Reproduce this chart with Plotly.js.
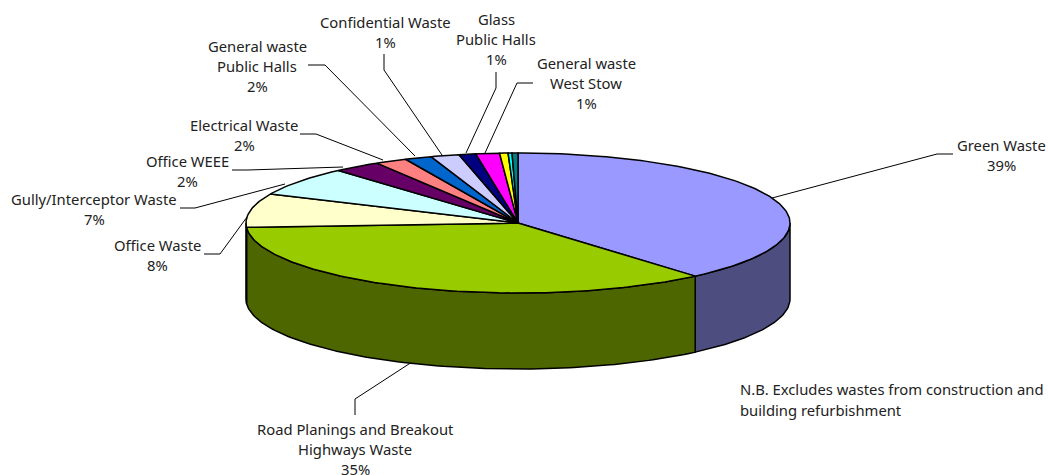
<!DOCTYPE html>
<html><head><meta charset="utf-8">
<script src="https://cdn.plot.ly/plotly-3.0.1.min.js"></script>
<style>html,body{margin:0;padding:0;background:#fff;overflow:hidden}</style>
</head><body><div id="chart" style="width:1048px;height:475px"></div>
<script>
// Data, clockwise from 12 o'clock
const categories = ["Green Waste","Road Planings and Breakout Highways Waste","Office Waste","Gully/Interceptor Waste","Office WEEE","Electrical Waste","General waste Public Halls","Confidential Waste","Glass Public Halls","General waste West Stow","Other A","Other B","Other C"];
const values = [38.7,35.3,7.8,6.7,2.8,1.9,1.6,1.7,1.0,1.4,0.5,0.23,0.35];
const topColors = ["#9999FF","#99CC00","#FFFFCC","#CCFFFF","#660066","#FF8080","#0066CC","#CCCCFF","#000080","#FF00FF","#FFFF00","#00FFFF","#008080"];
const sideColors = ["#4D4D80","#4D6600","#808066"];

// Label text
const labelTexts = [
  ["Green Waste","39%"],
  ["Road Planings and Breakout","Highways Waste","35%"],
  ["Office Waste","8%"],
  ["Gully/Interceptor Waste","7%"],
  ["Office WEEE","2%"],
  ["Electrical Waste","2%"],
  ["General waste","Public Halls","2%"],
  ["Confidential Waste","1%"],
  ["Glass","Public Halls","1%"],
  ["General waste","West Stow","1%"]
];
const noteLines = ["N.B. Excludes wastes from construction and","building refurbishment"];

// Layout (pixels of the page)
const labelPos = [[1001,145],[355,428.5],[157,245],[94,199],[187,161],[244,125],[257,46],[385,22],[496,19],[586,63]];
const lineStep = 20.2;
const leaders = [
  [[953,154],[937,154],[772,198]],
  [[355,415],[355,399],[412,362]],
  [[204,254],[220,254],[247,217]],
  [[180,208],[195,208],[285,184]],
  [[232,170],[248,170],[343,167]],
  [[300,134],[316,134],[383,160]],
  [[308,65],[325,65],[415,156]],
  [[384,54],[384,70],[442,155]],
  [[496,72],[496,88],[466,153]],
  [[533,83],[517,83],[485,153]]
];
const cx=518, cy=223, rx=272, ry=70, depth=76;
const font={family:"Noto Sans, sans-serif",size:14.8,color:"#222"};

const total = values.reduce((a,b)=>a+b,0);
const pt = (deg,dy=0)=>[cx+rx*Math.sin(deg*Math.PI/180), cy-ry*Math.cos(deg*Math.PI/180)+dy];
function arc(a,b,dy){const n=Math.max(2,Math.ceil(Math.abs(b-a)));const o=[];for(let i=0;i<=n;i++)o.push(pt(a+(b-a)*i/n,dy));return o;}
function poly(points,fill){
  return {type:"scatter",mode:"lines",x:points.map(p=>p[0]),y:points.map(p=>p[1]),fill:"toself",fillcolor:fill,
    line:{color:"#000",width:1.5},hoverinfo:"skip",showlegend:false};
}
const angles=[0];values.forEach(v=>angles.push(angles[angles.length-1]+v/total*360));
const walls=[],tops=[];
values.forEach((v,i)=>{
  const a=angles[i],b=angles[i+1];
  const wa=Math.max(a,90),wb=Math.min(b,270);
  if(wb>wa&&sideColors[i]) walls.push(poly([...arc(wa,wb,0),...arc(wb,wa,depth),pt(wa,0)],sideColors[i]));
  tops.push(poly([[cx,cy],...arc(a,b,0),[cx,cy]],topColors[i]));
});

const annotations=[];
labelTexts.forEach((lines,i)=>lines.forEach((t,j)=>annotations.push({
  text:t,x:labelPos[i][0],y:labelPos[i][1]+j*lineStep,xref:"x",yref:"y",showarrow:false,xanchor:"center",yanchor:"middle",font
})));
noteLines.forEach((t,j)=>annotations.push({text:t,x:738,y:389+j*20.5,xref:"x",yref:"y",showarrow:false,xanchor:"left",yanchor:"middle",font}));

const shapes=leaders.map(l=>({type:"path",layer:"below",xref:"x",yref:"y",
  path:"M"+l.map(p=>p.join(",")).join("L"),line:{color:"#000",width:1}}));

Plotly.newPlot("chart",[...walls,...tops],{
  width:1048,height:475,margin:{l:0,r:0,t:0,b:0},paper_bgcolor:"#fff",plot_bgcolor:"#fff",
  showlegend:false,
  xaxis:{range:[0,1048],visible:false,fixedrange:true},
  yaxis:{range:[475,0],visible:false,fixedrange:true},
  annotations,shapes
},{displayModeBar:false,staticPlot:true});
</script></body></html>
